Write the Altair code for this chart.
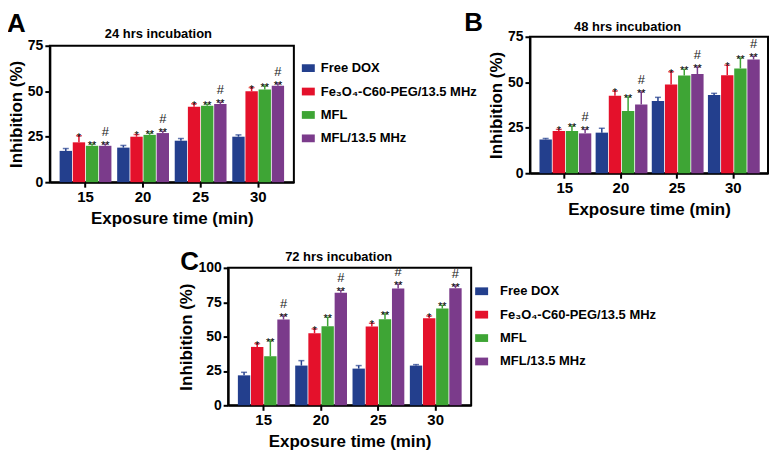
import altair as alt
import pandas as pd

times = ["15", "20", "25", "30"]
groups = ["Free DOX", "Fe₃O₄-C60-PEG/13.5 MHz", "MFL", "MFL/13.5 MHz"]
colors = ["#233f8d", "#e4112b", "#3ea535", "#7b3b8b"]
stars = ["", "*", "**", "**"]
hashes = ["", "", "", "#"]

# Panel A: 24 hrs
a_vals = [
    [17.2, 19.0, 22.8, 25.0],
    [21.9, 25.0, 41.5, 50.0],
    [20.0, 26.0, 42.0, 51.0],
    [20.0, 27.0, 43.0, 53.0],
]
a_errs = [
    [1.3, 1.2, 1.2, 1.0],
    [3.6, 1.2, 1.6, 2.0],
    [1.0, 1.0, 1.0, 2.0],
    [1.0, 1.0, 1.0, 1.2],
]
# Panel B: 48 hrs
b_vals = [
    [18.6, 22.3, 39.7, 43.0],
    [23.2, 42.6, 48.8, 53.9],
    [23.2, 34.2, 53.7, 57.6],
    [21.9, 37.8, 54.5, 62.5],
]
b_errs = [
    [0.5, 2.4, 2.0, 0.9],
    [0.9, 2.6, 7.0, 5.5],
    [2.8, 7.8, 3.5, 5.8],
    [2.2, 7.0, 4.0, 1.9],
]
# Panel C: 72 hrs
c_vals = [
    [21.8, 28.9, 26.7, 28.9],
    [42.5, 52.4, 57.3, 63.3],
    [35.7, 57.5, 62.6, 70.4],
    [62.4, 81.8, 85.0, 85.2],
]
c_errs = [
    [2.2, 3.6, 2.2, 0.7],
    [2.4, 3.2, 2.4, 1.7],
    [11.4, 6.6, 4.1, 2.4],
    [2.9, 1.9, 3.3, 1.9],
]

FONT = "Liberation Sans"
SYM = "M-1,-0.6L1,-0.6L1,0.6L-1,0.6Z"


def make_df(vals, errs):
    rows = []
    for gi, g in enumerate(groups):
        for ti, t in enumerate(times):
            v = vals[gi][ti]
            e = errs[gi][ti]
            rows.append({"time": t, "group": g, "value": v, "upper": v + e,
                         "star": stars[gi], "hash": hashes[gi]})
    return pd.DataFrame(rows)


def label_layer(text, x, y, size, weight="bold", align="center", baseline="middle"):
    return alt.Chart(pd.DataFrame({"t": [text]})).mark_text(
        font=FONT, fontSize=size, fontWeight=weight, align=align,
        baseline=baseline, color="black"
    ).encode(text="t:N", x=alt.value(x), y=alt.value(y))


def panel(vals, errs, ymax, yticks, title, letter, w, h, title_xy, letter_xy, legend):
    df = make_df(vals, errs)
    color_scale = alt.Scale(domain=groups, range=colors)
    base = alt.Chart(df).encode(
        x=alt.X("time:N", sort=times,
                scale=alt.Scale(paddingInner=0.1, paddingOuter=0.17),
                axis=alt.Axis(title="Exposure time (min)", labelAngle=0,
                              labelFontSize=15, labelPadding=2, titlePadding=6)),
        xOffset=alt.XOffset("group:N", sort=groups,
                            scale=alt.Scale(paddingInner=0.06, paddingOuter=0)),
    )
    ysc = alt.Scale(domain=[0, ymax], nice=False)
    yax = alt.Axis(title="Inhibition (%)", values=yticks, labelFontSize=14,
                   labelPadding=2, titlePadding=2)
    bars = base.mark_bar().encode(
        y=alt.Y("value:Q", scale=ysc, axis=yax),
        color=alt.Color("group:N", sort=groups, scale=color_scale, legend=legend),
    )
    err = base.mark_rule(strokeWidth=1.5).encode(
        y=alt.Y("value:Q", scale=ysc, axis=yax), y2="upper:Q",
        color=alt.Color("group:N", sort=groups, scale=color_scale, legend=None),
    )
    cap = base.mark_tick(thickness=1.5, size=6).encode(
        y=alt.Y("upper:Q", scale=ysc, axis=yax),
        color=alt.Color("group:N", sort=groups, scale=color_scale, legend=None),
    )
    st = base.mark_text(font=FONT, fontSize=11, baseline="alphabetic", dy=5,
                        color="black").encode(
        y=alt.Y("upper:Q", scale=ysc, axis=yax), text="star:N")
    hs = base.mark_text(font=FONT, fontSize=13, baseline="alphabetic", dy=-8,
                        color="#222222").encode(
        y=alt.Y("upper:Q", scale=ysc, axis=yax), text="hash:N")
    ttl = label_layer(title, title_xy[0], title_xy[1], 13)
    let = label_layer(letter, letter_xy[0], letter_xy[1], 26, align="left",
                      baseline="alphabetic")
    return alt.layer(bars, err, cap, st, hs, ttl, let).properties(width=w, height=h)


def spacer(w, h):
    return alt.Chart(pd.DataFrame({"v": [0]})).mark_point(opacity=0).encode(
        x=alt.value(0), y=alt.value(0)
    ).properties(width=w, height=h, view=alt.ViewBackground(stroke=None))


def mk_legend(x, y, offset):
    return alt.Legend(orient="none", legendX=x, legendY=y, title=None,
                      symbolType=SYM, symbolSize=169, symbolStrokeWidth=0,
                      labelFontSize=13, labelFontWeight="bold", labelFont=FONT,
                      labelColor="black", rowPadding=9.5, labelOffset=offset,
                      padding=0)


# legend positions are relative to the enclosing concat block
pa = panel(a_vals, a_errs, 75, [0, 25, 50, 75], "24 hrs incubation", "A",
           245, 137, (109, -12), (-43, -14), mk_legend(253, 25, 6))
pb = panel(b_vals, b_errs, 75, [0, 25, 50, 75], "48 hrs incubation", "B",
           239, 137, (98, -10), (-66, -6), None)
pc = panel(c_vals, c_errs, 100, [0, 25, 50, 75, 100], "72 hrs incubation", "C",
           244, 138, (111, -11), (-48, 2), mk_legend(427, 17, 12))

# with flush bounds a nested concat counts as zero-size, so the
# spacings below are measured from the nested block's origin
a_col = alt.vconcat(spacer(245, 9), pa, spacing=0, bounds="flush")
top = alt.hconcat(a_col, pb, spacing=482, bounds="flush").resolve_legend(color="independent")
bottom = alt.hconcat(spacer(179, 1), pc, spacing=0, bounds="flush")

chart = alt.vconcat(top, bottom, spacing=232, bounds="flush").resolve_legend(
    color="independent"
).properties(padding={"top": 0, "left": -2, "right": 0, "bottom": 0},
             background="white").configure_view(
    stroke="black", strokeWidth=2
).configure_axis(
    labelFont=FONT, titleFont=FONT, labelFontWeight="bold", titleFontWeight="bold",
    titleFontSize=17, labelColor="black", titleColor="black",
    domainColor="black", domainWidth=2, tickColor="black", tickWidth=2,
    tickSize=5, grid=False
)

chart.save("out.html", embed_options={"renderer": "svg", "actions": False})
